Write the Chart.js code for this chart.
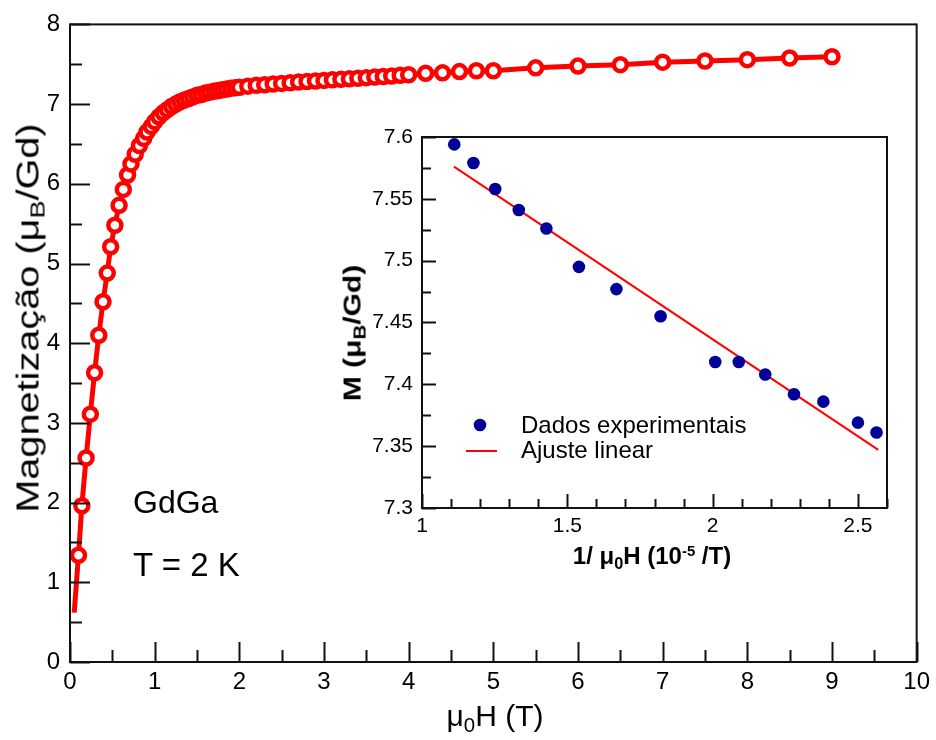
<!DOCTYPE html>
<html>
<head>
<meta charset="utf-8">
<script src="https://cdn.jsdelivr.net/npm/chart.js@4.4.0/dist/chart.umd.min.js"></script>
<style>
    body { margin: 0; background: #fff; font-family: "Liberation Sans", Arial, sans-serif; }
    #wrap { position: relative; width: 936px; height: 740px; overflow: hidden; }
    #mainChart { position: absolute; left: 0; top: 0; }
    #insetChart { position: absolute; left: 330px; top: 110px; }
    .lbl { position: absolute; white-space: nowrap; color: #000; line-height: 1; }
    .sub { font-size: 0.68em; vertical-align: -0.28em; }
    .sup { font-size: 0.62em; vertical-align: 0.55em; }
    .b { font-weight: bold; }
</style>
</head>
<body>
<div id="wrap">
    <canvas id="mainChart" width="936" height="740"></canvas>
    <canvas id="insetChart" width="580" height="470"></canvas>

    <div class="lbl" style="left:495px; top:701px; font-size:30px; transform:translateX(-50%);">&mu;<span class="sub">0</span>H (T)</div>
    <div class="lbl" style="left:30px; top:318px; font-size:31px; transform:translate(-50%,-50%) rotate(-90deg) scaleX(1.28);">Magnetização (&mu;<span class="sub">B</span>/Gd)</div>
    <div class="lbl" style="left:133px; top:486px; font-size:32px;">GdGa</div>
    <div class="lbl" style="left:133px; top:548px; font-size:33px;">T = 2 K</div>

    <div class="lbl" style="left:521px; top:413px; font-size:24px;">Dados experimentais</div>
    <div class="lbl" style="left:521px; top:438px; font-size:24px;">Ajuste linear</div>
    <div class="lbl b" style="left:652px; top:544px; font-size:24px; transform:translateX(-50%);">1/ &mu;<span class="sub">0</span>H (10<span class="sup">-5</span> /T)</div>
    <div class="lbl b" style="left:354px; top:333px; font-size:24px; transform:translate(-50%,-50%) rotate(-90deg) scaleX(1.25);">M (&mu;<span class="sub">B</span>/Gd)</div>
</div>

<script>
// Curva M(H) a 2 K - campo (T) e magnetizacao (muB/Gd)
var campoH = [0.05, 0.10, 0.14, 0.19, 0.24, 0.29, 0.34, 0.39, 0.44, 0.48, 0.53, 0.58, 0.63, 0.68, 0.72,
    0.77, 0.82, 0.87, 0.91, 0.96, 1.00, 1.05, 1.10, 1.15, 1.20, 1.25, 1.30, 1.35, 1.40, 1.45, 1.50,
    1.55, 1.60, 1.65, 1.70, 1.75, 1.80, 1.85, 1.90, 1.95, 2.0, 2.1, 2.2, 2.3, 2.4, 2.5, 2.6, 2.7, 2.8,
    2.9, 3.0, 3.1, 3.2, 3.3, 3.4, 3.5, 3.6, 3.7, 3.8, 3.9, 4.0, 4.2, 4.4, 4.6, 4.8, 5.0, 5.5, 6.0,
    6.5, 7.0, 7.5, 8.0, 8.5, 9.0];
var magM = [0.62, 1.34, 1.96, 2.56, 3.11, 3.63, 4.10, 4.52, 4.88, 5.21, 5.48, 5.73, 5.93, 6.11, 6.25,
    6.37, 6.48, 6.57, 6.65, 6.72, 6.78, 6.84, 6.89, 6.93, 6.97, 7.00, 7.03, 7.05, 7.07, 7.09, 7.11,
    7.12, 7.14, 7.15, 7.16, 7.17, 7.18, 7.19, 7.20, 7.205, 7.21, 7.225, 7.235, 7.243, 7.252, 7.26, 7.268, 7.276, 7.283,
    7.29, 7.297, 7.304, 7.311, 7.318, 7.325, 7.332, 7.339, 7.346, 7.353, 7.361, 7.369, 7.386, 7.392, 7.408, 7.418, 7.418, 7.455, 7.477,
    7.495, 7.526, 7.541, 7.558, 7.579, 7.594];

// Inset: M vs 1/H
var inversoH = [1.111, 1.177, 1.252, 1.333, 1.428, 1.540, 1.669, 1.821, 2.009, 2.090, 2.181, 2.280, 2.381, 2.500, 2.564];
var magInset = [7.594, 7.579, 7.558, 7.541, 7.526, 7.495, 7.477, 7.455, 7.418, 7.418, 7.408, 7.392, 7.386, 7.369, 7.361];
var ajusteX = [1.11, 2.57];
var ajusteY = [7.576, 7.347];

var fonte = '"Liberation Sans", Arial, sans-serif';

function pares(xs, ys) {
    return xs.map(function (x, i) { return { x: x, y: ys[i] }; });
}

function fmt(v) {
    return String(+Number(v).toFixed(2));
}

// caixa + ticks para dentro (major/minor)
function caixaTicks(o) {
    return {
        id: 'caixaTicks',
        afterDraw: function (chart) {
            var ctx = chart.ctx, a = chart.chartArea;
            var sx = chart.scales.x, sy = chart.scales.y;
            ctx.save();
            ctx.strokeStyle = '#111';
            ctx.lineWidth = o.lw;
            ctx.strokeRect(a.left, a.top, a.right - a.left, a.bottom - a.top);
            ctx.beginPath();
            var n, v, p, len;
            for (n = Math.ceil(sx.min / o.xMinor - 1e-6); n * o.xMinor <= sx.max + 1e-6; n++) {
                v = n * o.xMinor;
                len = Math.abs(v / o.xMajor - Math.round(v / o.xMajor)) < 1e-6 ? o.major : o.minor;
                p = Math.round(sx.getPixelForValue(v)) + 0.5;
                ctx.moveTo(p, a.bottom);
                ctx.lineTo(p, a.bottom - len);
            }
            for (n = Math.ceil(sy.min / o.yMinor - 1e-6); n * o.yMinor <= sy.max + 1e-6; n++) {
                v = n * o.yMinor;
                len = Math.abs(v / o.yMajor - Math.round(v / o.yMajor)) < 1e-6 ? o.major : o.minor;
                p = Math.round(sy.getPixelForValue(v)) + 0.5;
                ctx.moveTo(a.left, p);
                ctx.lineTo(a.left + len, p);
            }
            ctx.stroke();
            ctx.restore();
        }
    };
}

var mainChart = new Chart(document.getElementById('mainChart'), {
    type: 'scatter',
    data: {
        datasets: [{
            data: pares(campoH, magM),
            showLine: true,
            borderColor: '#ff0000',
            borderWidth: 5,
            pointRadius: function (c) { return c.dataIndex === 0 ? 0 : 6.5; },
            pointBorderWidth: 4.5,
            pointBorderColor: '#ff0000',
            pointBackgroundColor: '#ffffff',
            clip: false
        }]
    },
    options: {
        responsive: false,
        animation: false,
        layout: { padding: { left: 0, top: 18, right: 16, bottom: 0 } },
        plugins: { legend: { display: false }, tooltip: { enabled: false } },
        scales: {
            x: {
                type: 'linear', min: 0, max: 10,
                ticks: { stepSize: 1, color: '#000', font: { family: fonte, size: 24 }, padding: 6, maxRotation: 0 },
                grid: { display: false, drawTicks: false },
                border: { display: false },
                afterFit: function (s) { s.height = 78; }
            },
            y: {
                type: 'linear', min: 0, max: 8,
                ticks: { stepSize: 1, color: '#000', font: { family: fonte, size: 24 }, padding: 10 },
                grid: { display: false, drawTicks: false },
                border: { display: false },
                afterFit: function (s) { s.width = 70; }
            }
        }
    },
    plugins: [caixaTicks({ lw: 2, xMinor: 0.5, xMajor: 1, yMinor: 0.5, yMajor: 1, major: 20, minor: 12 })]
});

// legenda desenhada dentro do inset
var legendaInset = {
    id: 'legendaInset',
    afterDraw: function (chart) {
        var ctx = chart.ctx;
        ctx.save();
        ctx.fillStyle = '#000099';
        ctx.beginPath();
        ctx.arc(150, 315, 6.3, 0, Math.PI * 2);
        ctx.fill();
        ctx.strokeStyle = '#ff0000';
        ctx.lineWidth = 2;
        ctx.beginPath();
        ctx.moveTo(136, 341);
        ctx.lineTo(167, 341);
        ctx.stroke();
        ctx.restore();
    }
};

var insetChart = new Chart(document.getElementById('insetChart'), {
    type: 'scatter',
    data: {
        datasets: [
            {
                label: 'Dados experimentais',
                data: pares(inversoH, magInset),
                pointRadius: 6.3,
                pointBorderWidth: 0,
                pointBackgroundColor: '#000099',
                clip: false
            },
            {
                label: 'Ajuste linear',
                data: pares(ajusteX, ajusteY),
                showLine: true,
                borderColor: '#ff0000',
                borderWidth: 2,
                pointRadius: 0
            }
        ]
    },
    options: {
        responsive: false,
        animation: false,
        layout: { padding: { left: 0, top: 27, right: 23, bottom: 0 } },
        plugins: { legend: { display: false }, tooltip: { enabled: false } },
        scales: {
            x: {
                type: 'linear', min: 1, max: 2.6,
                ticks: { stepSize: 0.5, includeBounds: false, color: '#000', font: { family: fonte, size: 21 }, padding: 6, maxRotation: 0, callback: fmt },
                grid: { display: false, drawTicks: false },
                border: { display: false },
                afterFit: function (s) { s.height = 72; }
            },
            y: {
                type: 'linear', min: 7.3, max: 7.6,
                ticks: { stepSize: 0.05, color: '#000', font: { family: fonte, size: 21 }, padding: 9, callback: fmt },
                grid: { display: false, drawTicks: false },
                border: { display: false },
                afterFit: function (s) { s.width = 92; }
            }
        }
    },
    plugins: [caixaTicks({ lw: 2, xMinor: 0.1, xMajor: 0.5, yMinor: 0.025, yMajor: 0.05, major: 14, minor: 9 }), legendaInset]
});
</script>
</body>
</html>
